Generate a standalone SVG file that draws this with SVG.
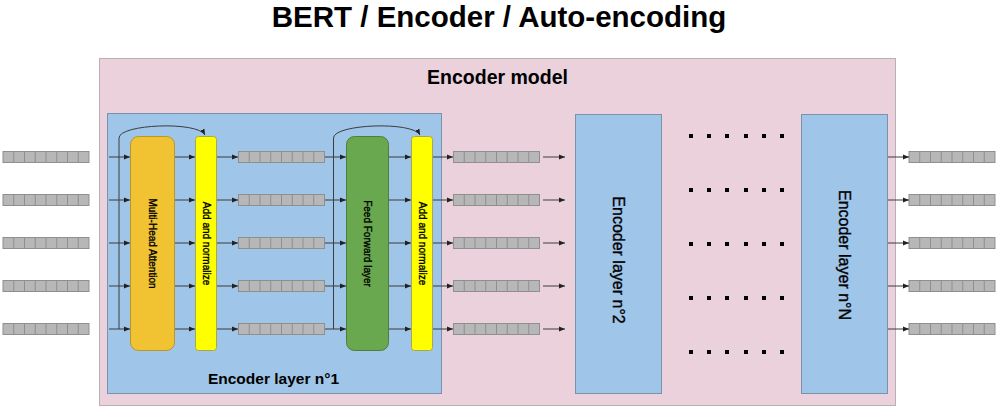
<svg xmlns="http://www.w3.org/2000/svg" width="1001" height="420" viewBox="0 0 1001 420">
<style>
.t{font-family:"Liberation Sans",Arial,sans-serif;fill:#000}
.b{font-weight:bold}
.s{stroke:#000;stroke-width:0.35}
.c{stroke:#3c3c3c;stroke-width:1;fill:none}
.tokr{fill:#b7b7b7;stroke:#8f8f8f;stroke-width:1}
.tokl{stroke:#8f8f8f;stroke-width:1}
.dot{fill:#000}
</style>
<defs>
<marker id="ah" viewBox="0 0 6 6" refX="6" refY="3" markerWidth="6" markerHeight="6" markerUnits="userSpaceOnUse" orient="auto">
<path d="M0,0.6 L6,3 L0,5.4 Z" fill="#222"/>
</marker>
<g id="tok">
<rect class="tokr" x="0" y="0" width="86" height="11"/>
<path class="tokl" d="M10.75,0V11M21.5,0V11M32.25,0V11M43,0V11M53.75,0V11M64.5,0V11M75.25,0V11"/>
</g>
</defs>
<rect width="1001" height="420" fill="#fff"/>
<text class="t b" x="499" y="27" font-size="29.5" text-anchor="middle">BERT / Encoder / Auto-encoding</text>

<g id="encoder-model">
<rect x="99.5" y="58.5" width="796" height="347" fill="#ead1dc" stroke="#b9b0b4"/>
<text class="t b" x="497.5" y="84" font-size="19.5" text-anchor="middle">Encoder model</text>
</g>

<g id="encoder-layer-1">
<rect x="107.5" y="113.5" width="334" height="280" fill="#9fc5e8" stroke="#7a93ab"/>
<text class="t b" x="273.5" y="384" font-size="15.5" text-anchor="middle">Encoder layer n°1</text>
</g>

<g id="multi-head-attention">
<rect x="130.5" y="136.5" width="44" height="214" rx="8" fill="#f1c232" stroke="#b8962c"/>
<text class="t s" font-size="10" text-anchor="middle" dominant-baseline="central" transform="translate(152.5,243.5) rotate(90)">Multi-Head Attention</text>
</g>

<g id="add-normalize-1">
<rect x="195.5" y="136.5" width="21" height="214" rx="3" fill="#ffff00" stroke="#a8a84a"/>
<text class="t s" font-size="10" text-anchor="middle" dominant-baseline="central" transform="translate(206,243.5) rotate(90)">Add and normalize</text>
</g>

<g id="feed-forward">
<rect x="346.5" y="136.5" width="42" height="214" rx="8" fill="#6aa84f" stroke="#4f7d3c"/>
<text class="t s" font-size="10" text-anchor="middle" dominant-baseline="central" transform="translate(367,243.5) rotate(90)">Feed Forward layer</text>
</g>

<g id="add-normalize-2">
<rect x="411.5" y="136.5" width="21" height="214" rx="3" fill="#ffff00" stroke="#a8a84a"/>
<text class="t s" font-size="10" text-anchor="middle" dominant-baseline="central" transform="translate(422,243.5) rotate(90)">Add and normalize</text>
</g>

<g id="encoder-layer-2">
<rect x="575.5" y="114.5" width="86" height="279" fill="#9fc5e8" stroke="#7a93ab"/>
<text class="t s" font-size="16" text-anchor="middle" dominant-baseline="central" transform="translate(618.5,260) rotate(90)">Encoder layer n°2</text>
</g>

<g id="encoder-layer-n">
<rect x="801.5" y="114.5" width="86" height="279" fill="#9fc5e8" stroke="#7a93ab"/>
<text class="t s" font-size="16" text-anchor="middle" dominant-baseline="central" transform="translate(844.5,255) rotate(90)">Encoder layer n°N</text>
</g>

<g id="input-tokens">
<use href="#tok" x="3" y="151.5"/>
<use href="#tok" x="3" y="194.5"/>
<use href="#tok" x="3" y="237.5"/>
<use href="#tok" x="3" y="280.5"/>
<use href="#tok" x="3" y="323.5"/>
</g>
<g id="attention-output-tokens">
<use href="#tok" x="238.5" y="151.5"/>
<use href="#tok" x="238.5" y="194.5"/>
<use href="#tok" x="238.5" y="237.5"/>
<use href="#tok" x="238.5" y="280.5"/>
<use href="#tok" x="238.5" y="323.5"/>
</g>
<g id="layer1-output-tokens">
<use href="#tok" x="453.5" y="151.5"/>
<use href="#tok" x="453.5" y="194.5"/>
<use href="#tok" x="453.5" y="237.5"/>
<use href="#tok" x="453.5" y="280.5"/>
<use href="#tok" x="453.5" y="323.5"/>
</g>
<g id="output-tokens">
<use href="#tok" x="909" y="151.5"/>
<use href="#tok" x="909" y="194.5"/>
<use href="#tok" x="909" y="237.5"/>
<use href="#tok" x="909" y="280.5"/>
<use href="#tok" x="909" y="323.5"/>
</g>

<g id="ellipsis">
<rect class="dot" x="689" y="134" width="4" height="4"/><rect class="dot" x="707" y="134" width="4" height="4"/><rect class="dot" x="725" y="134" width="4" height="4"/><rect class="dot" x="744" y="134" width="4" height="4"/><rect class="dot" x="762" y="134" width="4" height="4"/><rect class="dot" x="780" y="134" width="4" height="4"/>
<rect class="dot" x="689" y="188" width="4" height="4"/><rect class="dot" x="707" y="188" width="4" height="4"/><rect class="dot" x="725" y="188" width="4" height="4"/><rect class="dot" x="744" y="188" width="4" height="4"/><rect class="dot" x="762" y="188" width="4" height="4"/><rect class="dot" x="780" y="188" width="4" height="4"/>
<rect class="dot" x="689" y="242" width="4" height="4"/><rect class="dot" x="707" y="242" width="4" height="4"/><rect class="dot" x="725" y="242" width="4" height="4"/><rect class="dot" x="744" y="242" width="4" height="4"/><rect class="dot" x="762" y="242" width="4" height="4"/><rect class="dot" x="780" y="242" width="4" height="4"/>
<rect class="dot" x="689" y="296" width="4" height="4"/><rect class="dot" x="707" y="296" width="4" height="4"/><rect class="dot" x="725" y="296" width="4" height="4"/><rect class="dot" x="744" y="296" width="4" height="4"/><rect class="dot" x="762" y="296" width="4" height="4"/><rect class="dot" x="780" y="296" width="4" height="4"/>
<rect class="dot" x="689" y="350" width="4" height="4"/><rect class="dot" x="707" y="350" width="4" height="4"/><rect class="dot" x="725" y="350" width="4" height="4"/><rect class="dot" x="744" y="350" width="4" height="4"/><rect class="dot" x="762" y="350" width="4" height="4"/><rect class="dot" x="780" y="350" width="4" height="4"/>
</g>

<g id="connectors" class="c">
<path d="M119,329 V138 C119,124 198,121 205,135" marker-end="url(#ah)"/>
<path d="M333.5,329 V138 C333.5,124 413,121 420,135" marker-end="url(#ah)"/>
<g marker-end="url(#ah)">
<path d="M109,157H130"/><path d="M109,200H130"/><path d="M109,243H130"/><path d="M109,286H130"/><path d="M109,329H130"/>
<path d="M175,157H195"/><path d="M175,200H195"/><path d="M175,243H195"/><path d="M175,286H195"/><path d="M175,329H195"/>
<path d="M217,157H238"/><path d="M217,200H238"/><path d="M217,243H238"/><path d="M217,286H238"/><path d="M217,329H238"/>
<path d="M325,157H346"/><path d="M325,200H346"/><path d="M325,243H346"/><path d="M325,286H346"/><path d="M325,329H346"/>
<path d="M389,157H411"/><path d="M389,200H411"/><path d="M389,243H411"/><path d="M389,286H411"/><path d="M389,329H411"/>
<path d="M433,157H453"/><path d="M433,200H453"/><path d="M433,243H453"/><path d="M433,286H453"/><path d="M433,329H453"/>
<path d="M543,157H565"/><path d="M543,200H565"/><path d="M543,243H565"/><path d="M543,286H565"/><path d="M543,329H565"/>
<path d="M888,157H909"/><path d="M888,200H909"/><path d="M888,243H909"/><path d="M888,286H909"/><path d="M888,329H909"/>
</g>
</g>
</svg>
